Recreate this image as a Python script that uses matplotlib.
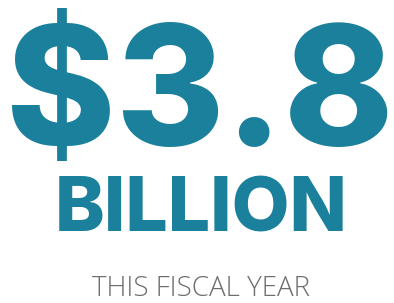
import matplotlib
matplotlib.use("Agg")
import matplotlib.pyplot as plt

# Data
values = [3.8]
units = ["BILLION"]
labels = ["THIS FISCAL YEAR"]

W, H = 394, 303
fig = plt.figure(figsize=(W / 100, H / 100), dpi=100)
fig.patch.set_facecolor("white")
renderer = fig.canvas.get_renderer()

teal = "#1A809B"
gray = "#6E6E6E"


def fitted_text(s, cx, baseline_px, target_w, weight, color, family):
    t = fig.text(cx / W, 1 - baseline_px / H, s, ha="center", va="baseline",
                 fontsize=50, fontweight=weight, color=color, family=family)
    for _ in range(4):
        bb = t.get_window_extent(renderer=renderer)
        t.set_fontsize(t.get_fontsize() * target_w / bb.width)
    return t


big = "$" + f"{values[0]:.1f}"
fitted_text(big, 200, 145, 388, "heavy", teal, ["Inter", "DejaVu Sans"])
fitted_text(units[0], 201.5, 232, 293, "heavy", teal, ["Inter", "DejaVu Sans"])
fitted_text(labels[0], 200.5, 296, 219, "light", gray, ["Open Sans", "DejaVu Sans"])

fig.savefig("out.png", dpi=100, facecolor="white")
